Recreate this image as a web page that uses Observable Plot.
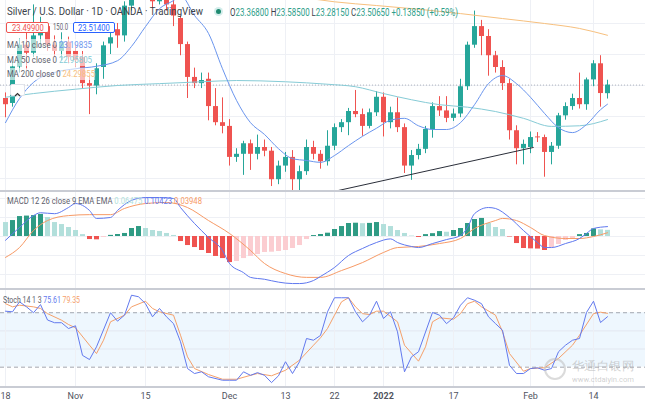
<!DOCTYPE html>
<html><head><meta charset="utf-8">
<script src="https://cdn.jsdelivr.net/npm/d3@7"></script>
<script src="https://cdn.jsdelivr.net/npm/@observablehq/plot@0.6"></script>
<style>
body{margin:0;background:#fff;font-family:Roboto,"Noto Sans",sans-serif;}
#wrap{position:relative;width:653px;height:403px;overflow:hidden;background:#fff;}
.panel{position:absolute;left:0;}
.sep{position:absolute;left:0;width:645px;height:2px;background:#c9ccd4;}
.lbl{position:absolute;white-space:nowrap;transform-origin:0 50%;}
.box{position:absolute;border:1px solid;border-radius:2px;background:#fff;box-sizing:border-box;display:flex;align-items:center;justify-content:center;overflow:hidden;}
</style></head><body><div id="wrap"></div>
<script>
// ---------- DATA (bar index 0 = 18 Oct 2021 ... 86 = 16 Feb 2022, daily bars) ----------
const openP  = [23.29,23.21,23.80,24.15,24.02,24.30,24.45,24.15,24.05,24.20,24.05,23.95,23.53,23.49,23.79,24.17,24.40,24.30,24.78,25.20,25.25,25.30,24.85,25.10,24.80,24.58,24.16,23.63,23.53,23.60,23.16,22.90,22.84,22.34,22.39,22.56,22.39,22.50,22.44,21.98,22.20,22.34,21.98,22.11,22.50,22.39,22.27,22.52,22.82,22.90,23.08,23.03,22.84,23.06,23.31,22.90,23.06,22.82,22.20,22.37,22.47,22.79,23.16,23.09,22.97,23.04,23.48,24.15,24.45,24.29,23.98,23.79,23.53,22.77,22.48,22.50,22.67,22.66,22.42,22.52,23.01,23.16,23.29,23.19,23.59,23.85,23.368];
const highP  = [23.38,23.88,24.25,24.45,24.80,24.60,24.50,24.30,24.35,24.28,24.15,24.05,23.65,23.85,24.20,24.35,24.50,24.85,25.30,25.35,25.40,25.40,25.20,25.15,24.95,24.62,24.20,23.78,23.70,23.70,23.45,23.30,22.95,22.48,22.60,22.62,22.70,22.62,22.50,22.28,22.42,22.45,22.20,22.62,22.60,22.45,22.77,22.88,22.95,23.13,23.42,23.12,23.12,23.40,23.38,23.15,23.30,22.88,22.45,22.55,22.84,23.22,23.32,23.32,23.12,23.60,24.20,24.70,24.55,24.40,24.05,23.90,23.60,22.85,22.62,22.75,22.74,22.70,22.58,23.05,23.22,23.36,23.70,23.62,23.90,23.98,23.585];
const lowP   = [22.98,23.15,23.70,23.75,23.95,24.10,24.05,23.95,23.90,23.85,23.80,23.45,23.03,23.35,23.60,24.00,24.10,24.20,24.70,25.05,25.10,24.75,24.80,24.70,24.45,23.98,23.29,23.45,23.45,22.93,22.85,22.72,22.20,22.26,22.05,22.13,22.30,22.35,21.87,21.90,22.10,21.80,21.80,22.05,22.30,22.15,22.20,22.45,22.74,22.69,22.98,22.68,22.80,23.00,22.67,22.80,22.74,22.08,21.97,22.30,22.40,22.65,23.00,22.90,22.92,22.98,23.42,24.10,23.98,23.65,23.70,23.42,22.62,22.22,22.22,22.40,22.58,22.02,22.22,22.47,22.94,23.10,23.12,23.10,23.48,23.15,23.2815];
const closeP = [23.19,23.80,24.15,24.02,24.30,24.45,24.15,24.05,24.20,23.95,23.90,23.53,23.49,23.77,24.14,24.27,24.30,24.78,25.20,25.25,25.30,24.85,25.10,24.80,24.62,24.16,23.63,23.53,23.58,23.16,22.90,22.84,22.34,22.39,22.56,22.39,22.50,22.44,21.98,22.20,22.34,21.98,22.11,22.50,22.39,22.27,22.52,22.82,22.90,23.08,23.03,22.84,23.06,23.31,22.90,23.06,22.82,22.20,22.37,22.47,22.79,23.16,23.09,22.97,23.04,23.48,24.15,24.45,24.29,23.98,23.79,23.53,22.77,22.48,22.55,22.66,22.655,22.42,22.52,23.01,23.16,23.29,23.19,23.59,23.85,23.37,23.5065];

// moving averages: [bar index, value]
const ma10 = [[0,22.90],[2,23.29],[4,23.55],[7,23.71],[10,23.77],[13,23.81],[16,23.90],[18,24.13],[20,24.45],[22,24.74],[24,24.87],[25,24.95],[27,24.63],[29,24.34],[31,23.77],[33,23.26],[35,22.90],[37,22.71],[39,22.48],[41,22.32],[43,22.29],[45,22.26],[47,22.37],[49,22.53],[51,22.68],[53,22.81],[55,22.94],[57,22.97],[59,22.85],[61,22.79],[63,22.79],[65,22.90],[67,23.19],[69,23.53],[71,23.66],[73,23.53],[75,23.31],[77,23.05],[79,22.82],[81,22.74],[83,22.87],[85,23.11],[86,23.198]];
const ma50 = [[0,23.31],[4,23.37],[10,23.44],[16,23.50],[22,23.53],[28,23.56],[33,23.58],[40,23.56],[46,23.52],[50,23.48],[54,23.37],[58,23.27],[62,23.19],[66,23.15],[70,23.08],[74,22.97],[78,22.84],[82,22.85],[86,22.95]];
const ma200 = [[42,24.93],[47,24.85],[53,24.79],[59,24.73],[65,24.66],[71,24.58],[77,24.50],[82,24.42],[86,24.31]];
const trendIdx = [46.9, 75.4], trendVal = [21.79, 22.50];

// MACD 12 26 9
const macdHist = [0.147,0.168,0.21,0.215,0.22,0.232,0.20,0.147,0.126,0.095,0.063,0.02,-0.032,-0.035,-0.01,0.012,0.021,0.032,0.084,0.105,0.084,0.063,0.053,0.032,0.011,-0.053,-0.095,-0.116,-0.147,-0.179,-0.21,-0.232,-0.274,-0.263,-0.232,-0.21,-0.19,-0.168,-0.165,-0.158,-0.147,-0.126,-0.095,-0.032,0.01,0.021,0.035,0.074,0.105,0.137,0.14,0.135,0.138,0.147,0.126,0.105,0.063,0.032,0.005,-0.01,0.02,0.03,0.052,0.045,0.063,0.084,0.137,0.179,0.19,0.137,0.095,0.074,-0.005,-0.074,-0.126,-0.13,-0.132,-0.147,-0.116,-0.084,-0.042,-0.021,0.02,0.032,0.08,0.07,0.06475];
const macdLine = [[0,-0.04],[2,0.095],[4,0.22],[5,0.25],[7,0.24],[9,0.305],[10,0.347],[12,0.274],[13,0.19],[15,0.20],[16,0.274],[18,0.38],[20,0.41],[22,0.41],[24,0.40],[25,0.305],[27,0.137],[29,-0.01],[31,-0.147],[32,-0.284],[34,-0.38],[35,-0.43],[37,-0.45],[39,-0.48],[41,-0.495],[42,-0.495],[44,-0.463],[45,-0.42],[47,-0.326],[49,-0.20],[51,-0.126],[53,-0.063],[55,-0.025],[56,-0.063],[58,-0.105],[59,-0.116],[61,-0.074],[63,-0.032],[65,0.01],[66,0.095],[67,0.24],[69,0.305],[70,0.295],[72,0.20],[74,0.063],[76,-0.063],[77,-0.116],[78,-0.116],[80,-0.074],[82,-0.021],[83,0.032],[84,0.084],[86,0.10423]];
const macdSignal = [[0,-0.22],[2,-0.116],[4,0.063],[6,0.168],[9,0.22],[12,0.23],[15,0.23],[17,0.295],[20,0.347],[23,0.358],[26,0.305],[29,0.168],[32,0.032],[35,-0.147],[37,-0.284],[40,-0.39],[43,-0.43],[45,-0.43],[48,-0.358],[51,-0.274],[54,-0.168],[56,-0.116],[59,-0.105],[62,-0.074],[65,-0.021],[67,0.084],[70,0.168],[71,0.19],[73,0.168],[75,0.095],[77,0.01],[80,-0.021],[82,-0.021],[84,0.0],[86,0.03948]];

// Stoch 14 1 3
const stochK = [[0,81.7],[1,81],[2,92],[3,86.5],[4,80],[5,89],[6,72],[7,69],[8,69],[9,62.6],[10,65.6],[11,33],[12,28.4],[13,42.4],[15,80],[16,70.7],[17,77.3],[18,99.3],[19,97.6],[20,90],[21,75.5],[22,84.7],[23,75.5],[24,68],[25,48],[26,18.5],[27,13],[28,14.9],[29,9.4],[31,5.6],[32,5.6],[33,5.6],[34,14.9],[35,11],[36,14],[37,11],[38,3],[39,10.5],[40,26],[41,13],[42,26],[43,51.6],[44,49.7],[45,55],[46,81],[47,96.5],[48,96.5],[49,96.5],[50,81],[51,70],[52,77.3],[53,92.7],[54,73.6],[55,81],[56,59],[57,14.9],[58,31.4],[59,37],[61,80.3],[62,77.3],[63,68],[64,74.4],[65,88.3],[66,96.5],[67,93.8],[68,90],[69,75.5],[70,68],[71,60.7],[72,22],[73,13],[74,13],[75,18.5],[76,19.3],[77,16.6],[78,18.5],[79,37],[80,44.2],[81,49.7],[82,51.6],[83,80.3],[84,92.7],[85,69.2],[86,75.61]];
const stochD = [[0,90],[1,86.5],[2,88.3],[4,86.5],[5,84.7],[6,79],[8,71.8],[9,67],[10,63.4],[12,44.2],[13,35],[14,49.7],[15,70],[17,77.3],[18,86.5],[20,92.7],[21,84.7],[22,81],[24,77.3],[25,55.2],[26,31.4],[27,18.5],[29,11.9],[31,6.7],[33,6.7],[35,11],[36,13],[38,10.5],[40,16.6],[42,27.7],[44,44.2],[45,52.4],[46,62.6],[47,77.3],[48,92],[49,96.5],[50,86.5],[51,79],[52,78],[53,81.7],[54,81.7],[56,70],[57,44.2],[59,26.6],[60,42.4],[61,70],[62,74.4],[64,72.9],[65,79],[66,90],[67,92.7],[68,86.5],[70,77.3],[71,59],[72,35],[74,15.5],[75,18.5],[77,19.3],[79,29.6],[81,44.2],[82,55.2],[84,79],[85,80.6],[86,79.35]];
const stochBands = [20, 80];
const stochGrid = [40, 60];

// axes / grids
const tickIdx = [0, 10, 20, 32, 40, 47, 54, 64, 75, 84];
const tickLabels = ["18", "Nov", "15", "Dec", "13", "22", "2022", "17", "Feb", "14"];
const priceGrid = [22.0, 22.5, 23.0, 23.5, 24.0, 24.5];
const macdGrid = [-0.4, -0.2, 0, 0.2, 0.4];

// ---------- CHART ----------
const C = {green:"#26a69a", red:"#ef5350", ma10:"#6a95ee", ma50:"#86cbd6", ma200:"#f7c07e",
  histUp:"#2f9b84", histUpL:"#b2dfdb", histDn:"#ef5350", histDnL:"#fbcdd1",
  macd:"#5f78ef", signal:"#f79a66", k:"#6279ee", d:"#f5a06a", grid:"#eef0f5"};
const xDom = [-5/7, 640/7];
const wrap = document.getElementById("wrap");
const pairs = a => a.map(([i, v]) => ({i, v}));

function base(h, yDom) {
  return {width: 653, height: h, marginLeft: 0, marginRight: 8, marginTop: 0, marginBottom: 0,
    x: {domain: xDom, axis: null}, y: yDom ? {domain: yDom, axis: null} : undefined,
    style: {background: "transparent", fontFamily: "Roboto, sans-serif", overflow: "hidden"}};
}
function place(el, top, h) {
  const d = document.createElement("div"); d.className = "panel"; d.style.top = top + "px"; d.style.height = h + "px";
  d.appendChild(el); wrap.appendChild(d);
}
function sep(top) { const s = document.createElement("div"); s.className = "sep"; s.style.top = top + "px"; wrap.appendChild(s); }

const candles = openP.map((o, i) => ({i, o, h: highP[i], l: lowP[i], c: closeP[i]}));
const up = candles.filter(d => d.c >= d.o), dn = candles.filter(d => d.c < d.o);
const lastClose = closeP[closeP.length - 1];
const trend = trendIdx.map((i, k) => ({i, v: trendVal[k]}));

const main = Plot.plot({...base(190, [21.806, 24.871]), marks: [
  Plot.ruleY(priceGrid, {stroke: C.grid}),
  Plot.ruleX(tickIdx, {stroke: C.grid}),
  Plot.ruleY([lastClose], {stroke: "#aeb3be", strokeDasharray: "1,2"}),
  Plot.ruleX(up, {x: "i", y1: "l", y2: "h", stroke: C.green, clip: true}),
  Plot.ruleX(dn, {x: "i", y1: "l", y2: "h", stroke: C.red, clip: true}),
  Plot.ruleX(up, {x: "i", y1: "o", y2: "c", stroke: C.green, strokeWidth: 5, clip: true}),
  Plot.ruleX(dn, {x: "i", y1: "o", y2: "c", stroke: C.red, strokeWidth: 5, clip: true}),
  Plot.line(pairs(ma50), {x: "i", y: "v", stroke: C.ma50, strokeWidth: 1, curve: "monotone-x", clip: true}),
  Plot.line(pairs(ma200), {x: "i", y: "v", stroke: C.ma200, strokeWidth: 1, curve: "monotone-x", clip: true}),
  Plot.line(pairs(ma10), {x: "i", y: "v", stroke: C.ma10, strokeWidth: 1, curve: "monotone-x", clip: true}),
  Plot.line(trend, {x: "i", y: "v", stroke: "#2a2e39", strokeWidth: 1})
]});
place(main, 0, 190); sep(190);

const hist = macdHist.map((v, i) => {
  const prev = i > 0 ? macdHist[i - 1] : v;
  return {i, v, kind: v >= 0 ? (v > prev ? "up" : "upL") : (v < prev ? "dn" : "dnL")};
});
const histCol = {up: C.histUp, upL: C.histUpL, dn: C.histDn, dnL: C.histDnL};
const macd = Plot.plot({...base(96, [-0.547, 0.463]), marks: [
  Plot.ruleY(macdGrid, {stroke: C.grid}),
  Plot.ruleX(tickIdx, {stroke: C.grid}),
  ...Object.keys(histCol).map(k => Plot.ruleX(hist.filter(d => d.kind === k), {x: "i", y1: 0, y2: "v", stroke: histCol[k], strokeWidth: 5})),
  Plot.line(pairs(macdSignal), {x: "i", y: "v", stroke: C.signal, strokeWidth: 1, curve: "monotone-x"}),
  Plot.line(pairs(macdLine), {x: "i", y: "v", stroke: C.macd, strokeWidth: 1, curve: "monotone-x"})
]});
place(macd, 192, 96); sep(288);

const stoch = Plot.plot({...base(96, [-1.3, 104.5]), marks: [
  Plot.rect([stochBands], {x1: xDom[0], x2: xDom[1], y1: d => d[0], y2: d => d[1], fill: "#2196f3", fillOpacity: 0.08}),
  Plot.ruleY(stochGrid, {stroke: "#e3e7f0"}),
  Plot.ruleX(tickIdx, {stroke: C.grid}),
  Plot.ruleY(stochBands, {stroke: "#a3a7b0", strokeDasharray: "4,3"}),
  Plot.line(pairs(stochD), {x: "i", y: "v", stroke: C.d, strokeWidth: 1}),
  Plot.line(pairs(stochK), {x: "i", y: "v", stroke: C.k, strokeWidth: 1})
]});
place(stoch, 290, 96); sep(386);

const ticks = tickIdx.map((i, k) => ({i, label: tickLabels[k], year: /^\d{4}$/.test(tickLabels[k])}));
const axis = Plot.plot({...base(15), marks: [
  Plot.text(ticks.filter(d => !d.year), {x: "i", text: "label", frameAnchor: "middle", fontSize: 9, fill: "#50535e"}),
  Plot.text(ticks.filter(d => d.year), {x: "i", text: "label", frameAnchor: "middle", fontSize: 9, fontWeight: "bold", fill: "#50535e"})
]});
place(axis, 388, 15);

// ---------- LEGENDS (overlay text) ----------
function label(parts, x, yc, size, targetW, bg) {
  const d = document.createElement("div"); d.className = "lbl";
  d.style.left = x + "px"; d.style.fontSize = size + "px"; d.style.lineHeight = (size + 3) + "px";
  d.style.top = (yc - (size + 3) / 2) + "px";
  if (bg) d.style.background = bg;
  parts.forEach(([t, c]) => { const s = document.createElement("span"); s.textContent = t; s.style.color = c; d.appendChild(s); });
  wrap.appendChild(d);
  if (targetW) { const w = d.getBoundingClientRect().width; d.style.transform = `scaleX(${targetW / w})`; }
  return d;
}
function box(text, x, y, w, h, color, size) {
  const b = document.createElement("div"); b.className = "box";
  Object.assign(b.style, {left: x + "px", top: y + "px", width: w + "px", height: h + "px", borderColor: color, color, fontSize: size + "px"});
  const s = document.createElement("span"); s.textContent = text; s.style.display = "inline-block"; s.style.transform = "scaleX(0.8)";
  b.appendChild(s); wrap.appendChild(b);
}
const dark = "#3b3f4a", grey = "#5d606b", val = "#2e9e8a";
label([["Silver / U.S. Dollar · 1D · OANDA · TradingView", dark]], 7, 11.5, 11.5, 196);
const dot = document.createElement("div");
Object.assign(dot.style, {position: "absolute", left: "216px", top: "9px", width: "5px", height: "5px", borderRadius: "50%", background: "#1f8a70", boxShadow: "0 0 0 2px rgba(38,166,154,0.2)"});
wrap.appendChild(dot);
label([["O", dark], ["23.36800", val], [" H", dark], ["23.58500", val], [" L", dark], ["23.28150", val], [" C", dark], ["23.50650", val], [" +0.13850 (+0.59%)", val]], 230, 12, 10, 228);
box("23.49900", 6, 22, 43, 11, C.red, 9.5);
label([["150.0", grey]], 53, 27.5, 8.5, 15);
box("23.51400", 73, 22, 42, 11, "#2962ff", 9.5);
const lbg = "rgba(255,255,255,0.6)";
label([["MA 10 close 0 ", grey], [" 23.19835", C.ma10]], 7, 45, 9.5, 85, lbg);
label([["MA 50 close 0 ", grey], [" 22.95805", C.ma50]], 7, 60, 9.5, 85, lbg);
label([["MA 200 close 0 ", grey], [" 24.29855", C.ma200]], 7, 74, 9.5, 88, lbg);
const btn = document.createElement("div");
Object.assign(btn.style, {position: "absolute", left: "10px", top: "84px", width: "15px", height: "12px", border: "1px solid #e0e3eb", borderRadius: "2px", background: "#fff", boxSizing: "border-box"});
btn.innerHTML = '<svg width="13" height="10"><polyline points="4,6 6.5,3.5 9,6" fill="none" stroke="#333" stroke-width="1.2"/></svg>';
wrap.appendChild(btn);
label([["MACD 12 26 close 9 EMA EMA ", grey], [" 0.06475 ", C.histUpL], [" 0.10423 ", C.macd], [" 0.03948", C.signal]], 7, 201, 9.5, 195);
label([["Stoch 14 1 3 ", grey], [" 75.61 ", C.k], [" 79.35", C.d]], 3, 300, 9.5, 77);

// watermark
const wm = document.createElement("div");
Object.assign(wm.style, {position: "absolute", left: "544px", top: "358px", width: "22px", height: "22px", borderRadius: "50%", border: "2px solid rgba(190,190,190,0.55)", boxSizing: "border-box"});
wrap.appendChild(wm);
label([["华通白银网", "rgba(170,170,170,0.55)"]], 572, 366, 12, 62);
label([["www.ctdaiyin.com", "rgba(170,170,170,0.55)"]], 572, 380, 7, 62);
</script></body></html>
